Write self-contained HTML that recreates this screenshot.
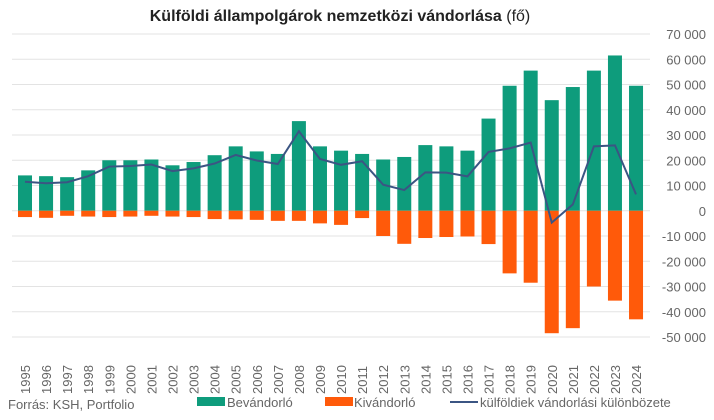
<!DOCTYPE html>
<html><head><meta charset="utf-8"><style>
body{margin:0;background:#fff;}
svg text{font-family:"Liberation Sans Narrow","Liberation Sans",sans-serif;}
</style></head><body>
<svg id="c" width="714" height="415" xmlns="http://www.w3.org/2000/svg"></svg>
<script>
const bev=[14000,13700,13300,16000,20000,20000,20300,18000,19300,22000,25500,23500,22500,35500,25500,23800,22500,20300,21300,26000,25500,23800,36500,49500,55500,43800,49000,55500,61500,49500];
const kiv=[-2500,-2800,-2000,-2300,-2500,-2300,-2000,-2300,-2500,-3300,-3400,-3600,-4000,-4000,-5000,-5600,-2900,-10000,-13100,-10800,-10400,-10200,-13200,-24800,-28500,-48500,-46500,-30000,-35600,-43000];
const net=[11500,10900,11300,13700,17500,17700,18300,15700,16800,18700,22100,19900,18500,31500,20500,18200,19600,10300,8200,15200,15100,13600,23300,24700,27000,-4700,2500,25500,25900,6500];
const Y=v=>210.75-v*0.002525, X=i=>25+21.07*i;
let s='';
s+='<text x="340" y="21" text-anchor="middle" font-size="16" fill="#222"><tspan font-weight="bold">Külföldi állampolgárok nemzetközi vándorlása</tspan> (fő)</text>';
for(let v=70000;v>=-50000;v-=10000){
 s+=`<line x1="12" x2="650" y1="${Y(v)}" y2="${Y(v)}" stroke="#e3e3e3" stroke-width="1"/>`;
 const t=(v<0?'-':'')+(Math.abs(v)>=1000?Math.floor(Math.abs(v)/1000)+' 000':'0');
 s+=`<text x="706" y="${Y(v)+5}" text-anchor="end" font-size="13" fill="#666">${v==0?'0':t}</text>`;
}
for(let i=0;i<30;i++){
 s+=`<rect x="${X(i)-7}" y="${Y(bev[i])}" width="14" height="${Y(0)-Y(bev[i])}" fill="#0e9c7c"/>`;
 s+=`<rect x="${X(i)-7}" y="${Y(0)}" width="14" height="${Y(kiv[i])-Y(0)}" fill="#ff5a0a"/>`;
 s+=`<text transform="translate(${X(i)+5},394) rotate(-90)" font-size="13" fill="#666">${1995+i}</text>`;
}
s+=`<polyline fill="none" stroke="#3b5583" stroke-width="2" points="${net.map((v,i)=>X(i)+','+Y(v)).join(' ')}"/>`;
s+='<text x="8" y="409" font-size="13" fill="#666">Forrás: KSH, Portfolio</text>';
s+='<rect x="197" y="397" width="28" height="9" fill="#0e9c7c"/><text x="227" y="407" font-size="13" fill="#666">Bevándorló</text>';
s+='<rect x="325" y="397" width="28" height="9" fill="#ff5a0a"/><text x="354" y="407" font-size="13" fill="#666">Kivándorló</text>';
s+='<line x1="450" x2="478" y1="402" y2="402" stroke="#3b5583" stroke-width="2"/><text x="480" y="407" font-size="13" fill="#666">külföldiek vándorlási különbözete</text>';
document.getElementById('c').innerHTML=s;
</script>
</body></html>
